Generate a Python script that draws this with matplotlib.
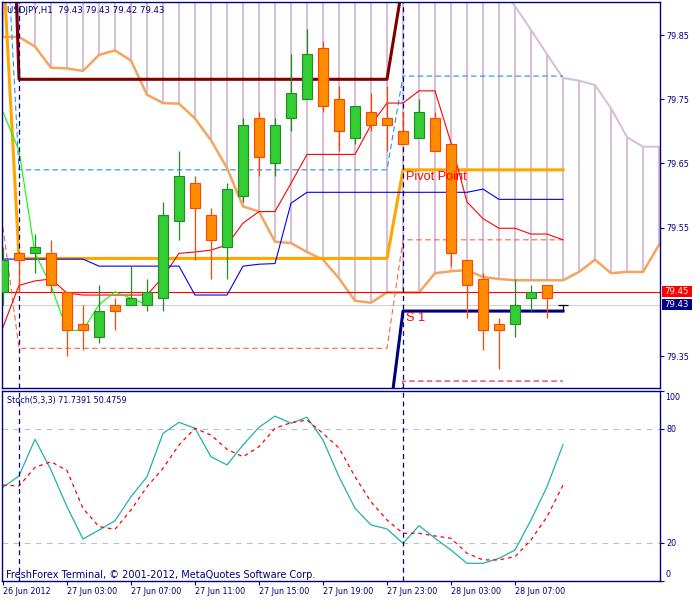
import numpy as np
import matplotlib
matplotlib.use('Agg')
import matplotlib.pyplot as plt
from matplotlib.transforms import blended_transform_factory
from matplotlib.patches import Rectangle

# ---- data (H1 bars, bar 0 = 26 Jun 23:00) ----
opens = [79.45, 79.51, 79.51, 79.51, 79.45, 79.40, 79.38, 79.43, 79.43, 79.43,
         79.44, 79.56, 79.62, 79.57, 79.52, 79.60, 79.72, 79.65, 79.72, 79.75,
         79.83, 79.75, 79.69, 79.73, 79.72, 79.70, 79.69, 79.72, 79.68, 79.50,
         79.47, 79.40, 79.40, 79.44, 79.46, 79.43]
highs = [79.52, 79.51, 79.54, 79.53, 79.45, 79.43, 79.46, 79.44, 79.49, 79.47,
         79.59, 79.67, 79.63, 79.58, 79.62, 79.72, 79.73, 79.72, 79.82, 79.86,
         79.84, 79.77, 79.74, 79.76, 79.77, 79.73, 79.75, 79.73, 79.68, 79.50,
         79.48, 79.41, 79.47, 79.46, 79.46, 79.43]
lows = [79.43, 79.45, 79.48, 79.45, 79.35, 79.36, 79.37, 79.39, 79.43, 79.42,
        79.42, 79.53, 79.50, 79.47, 79.47, 79.59, 79.63, 79.63, 79.70, 79.75,
        79.73, 79.67, 79.68, 79.70, 79.67, 79.68, 79.69, 79.67, 79.49, 79.41,
        79.36, 79.33, 79.38, 79.42, 79.41, 79.42]
closes = [79.50, 79.50, 79.52, 79.46, 79.39, 79.39, 79.42, 79.42, 79.44, 79.45,
          79.57, 79.63, 79.58, 79.53, 79.61, 79.71, 79.66, 79.71, 79.76, 79.82,
          79.74, 79.70, 79.74, 79.71, 79.71, 79.68, 79.73, 79.67, 79.51, 79.46,
          79.39, 79.39, 79.43, 79.45, 79.44, 79.43]

tenkan = [79.395, 79.460, 79.467, 79.470, 79.448, 79.445, 79.445, 79.445, 79.445, 79.445,
          79.473, 79.510, 79.512, 79.515, 79.523, 79.557, 79.575, 79.575, 79.619, 79.664,
          79.664, 79.664, 79.664, 79.710, 79.744, 79.744, 79.763, 79.763, 79.682, 79.590,
          79.564, 79.549, 79.549, 79.540, 79.540, 79.531]
kijun = [79.501, 79.501, 79.501, 79.501, 79.501, 79.501, 79.490, 79.490, 79.490, 79.490,
         79.490, 79.490, 79.445, 79.445, 79.445, 79.490, 79.493, 79.494, 79.588, 79.605,
         79.605, 79.605, 79.605, 79.605, 79.605, 79.605, 79.605, 79.605, 79.605, 79.605,
         79.610, 79.594, 79.594, 79.594, 79.594, 79.594]
# senkou spans run 6 bars past the last candle
span_a = [79.847, 79.847, 79.832, 79.799, 79.798, 79.794, 79.819, 79.826, 79.810, 79.757,
          79.744, 79.743, 79.720, 79.686, 79.643, 79.583, 79.575, 79.528, 79.526, 79.512,
          79.500, 79.471, 79.436, 79.433, 79.449, 79.449, 79.449, 79.479, 79.482, 79.484,
          79.473, 79.470, 79.468, 79.468, 79.468, 79.468, 79.481, 79.500, 79.479, 79.481,
          79.481, 79.523]
span_b = [79.926, 79.926, 79.926, 79.926, 79.926, 79.926, 79.926, 79.926, 79.926, 79.926,
          79.926, 79.926, 79.926, 79.926, 79.926, 79.926, 79.926, 79.926, 79.926, 79.926,
          79.926, 79.926, 79.926, 79.926, 79.926, 79.926, 79.926, 79.926, 79.926, 79.926,
          79.926, 79.926, 79.895, 79.858, 79.820, 79.783, 79.779, 79.772, 79.736, 79.691,
          79.676, 79.676]

# daily pivot levels: 26 Jun, 27 Jun, 28 Jun
bars_per_day = [1, 24, 11]
piv_r1 = [80.55, 79.781, 79.933]
piv_m3 = [80.11, 79.640, 79.786]
piv_pp = [79.965, 79.502, 79.640]
piv_m2 = [79.551, 79.362, 79.531]
piv_s1 = [79.00, 79.225, 79.420]
piv_m1 = [78.90, 79.080, 79.311]

stoch_k = [49.3, 55.3, 74.6, 58.4, 39.1, 22.1, 26.8, 31.7, 44.4, 54.9,
           77.7, 83.5, 80.4, 65.4, 61.1, 71.6, 80.9, 86.8, 83.0, 86.2,
           74.2, 54.9, 38.3, 29.5, 27.4, 19.8, 29.1, 22.5, 16.3, 9.3,
           9.3, 11.9, 16.3, 32.1, 49.6, 71.7391]
stoch_d = [50.5, 50.0, 59.8, 62.8, 58.1, 38.2, 28.6, 27.2, 37.4, 49.6,
           59.3, 71.6, 80.4, 76.8, 69.3, 65.4, 70.7, 80.4, 83.3, 84.7,
           77.7, 70.0, 54.9, 41.7, 32.1, 25.1, 25.1, 23.7, 22.5, 14.6,
           11.1, 11.1, 12.8, 21.6, 33.8, 50.4759]

time_ticks = [0, 4, 8, 12, 16, 20, 24, 28, 32]
time_labels = ["26 Jun 2012", "27 Jun 03:00", "27 Jun 07:00", "27 Jun 11:00",
               "27 Jun 15:00", "27 Jun 19:00", "27 Jun 23:00", "28 Jun 03:00",
               "28 Jun 07:00"]
day_starts = [1, 25]
price_ticks = [79.35, 79.55, 79.65, 79.75, 79.85]
ask = 79.45
bid = 79.43

NAVY = '#000080'
FS = 5.8


def draw_candles(ax, o, h, l, c, width=0.64):
    """
    draws the candles, bull green, bear orange, doji black
    """
    o, h, l, c = map(np.asarray, (o, h, l, c))
    x = np.arange(len(o))
    bull = c > o
    bear = c < o
    doji = c == o
    ax.vlines(x[bull], l[bull], h[bull], colors='#228B22', lw=0.9, zorder=3)
    ax.vlines(x[bear], l[bear], h[bear], colors='#FF4500', lw=0.9, zorder=3)
    ax.vlines(x[doji], l[doji], h[doji], colors='black', lw=0.9, zorder=3)
    ax.bar(x[bull], c[bull] - o[bull], bottom=o[bull], width=width,
           color='#32CD32', edgecolor='#228B22', linewidth=0.8, zorder=3.1)
    ax.bar(x[bear], o[bear] - c[bear], bottom=c[bear], width=width,
           color='#FF8C00', edgecolor='#FF4500', linewidth=0.8, zorder=3.1)
    ax.hlines(o[doji], x[doji] - width / 2, x[doji] + width / 2,
              colors='black', lw=0.9, zorder=3.1)


def draw_ichimoku(ax, closes, tenkan, kijun, span_a, span_b, shift=26):
    xs = np.arange(len(span_a))
    ax.vlines(xs, span_a, span_b, colors='#D8BFD8', lw=1.5, zorder=1)
    ax.plot(xs, span_b, color='#D8BFD8', lw=1.5, zorder=1.2)
    ax.plot(xs, span_a, color='#F4A460', lw=1.8, zorder=1.3)
    x = np.arange(len(tenkan))
    ax.plot(x, tenkan, color='#FF0000', lw=0.8, zorder=2.5)
    ax.plot(x, kijun, color='#0000FF', lw=0.8, zorder=2.5)
    # chikou span = close moved back 26 bars
    chikou = np.asarray(closes)[shift:]
    ax.plot(np.arange(len(chikou)), chikou, color='#00FF00', lw=0.8, zorder=2.5)


def draw_pivots(ax):
    day = np.repeat(np.arange(len(bars_per_day)), bars_per_day)
    x = np.arange(len(day))
    styles = [
        (piv_r1, '#800000', 2.2, '-'),
        (piv_m3, '#1E90FF', 0.8, (0, (5, 3))),
        (piv_pp, '#FFA500', 2.2, '-'),
        (piv_m2, '#FF6347', 0.8, (0, (5, 3))),
        (piv_s1, '#000080', 2.2, '-'),
        (piv_m1, '#DC143C', 0.8, (0, (5, 3))),
    ]
    for levels, col, lw, ls in styles:
        ax.plot(x, np.asarray(levels)[day], color=col, lw=lw, ls=ls, zorder=2.4)
    ax.text(day_starts[-1] + 0.2, piv_pp[-1] - 0.002, 'Pivot Point', color='red',
            family='Liberation Sans', fontsize=9.2, va='top', ha='left', zorder=5)
    ax.text(day_starts[-1] + 0.2, piv_s1[-1] - 0.002, 'S 1', color='red',
            family='Liberation Sans', fontsize=9.2, va='top', ha='left', zorder=5)


def price_box(ax, value, color):
    tr = blended_transform_factory(ax.transAxes, ax.transData)
    h = 11 / 642
    ax.add_patch(Rectangle((1.003, value - h / 2), 30 / 658, h, transform=tr,
                           facecolor=color, edgecolor='none', clip_on=False))
    ax.text(1.003 + 15 / 658, value, f"{value:.2f}", transform=tr, color='white',
            fontsize=FS + 0.4, ha='center', va='center', clip_on=False)


def style_axes(ax):
    for s in ax.spines.values():
        s.set_color(NAVY)
        s.set_linewidth(1.0)
    ax.tick_params(colors=NAVY, labelcolor=NAVY, labelsize=FS, length=3,
                   width=0.8, direction='out', pad=1.5)


fig = plt.figure(figsize=(7, 6), dpi=100)
ax = fig.add_axes([2 / 700, (600 - 388) / 600, 658 / 700, 386 / 600])
ax2 = fig.add_axes([2 / 700, (600 - 581) / 600, 658 / 700, 190 / 600])

xlim = (-1 / 16, 657 / 16)

# ---- price panel ----
ax.axhline(ask, color='#FF0000', lw=0.8, zorder=1.5)
ax.axhline(bid, color='#D3D3D3', lw=0.8, zorder=1.5)
draw_ichimoku(ax, closes, tenkan, kijun, span_a, span_b)
draw_pivots(ax)
draw_candles(ax, opens, highs, lows, closes)
for d in day_starts:
    ax.axvline(d, color=NAVY, lw=0.9, ls=(0, (4, 3)), zorder=2.6)

ax.set_xlim(*xlim)
ax.set_ylim(79.3002, 79.9014)
ax.set_xticks([])
ax.yaxis.tick_right()
ax.set_yticks(price_ticks)
ax.set_yticklabels([f"{p:.2f}" for p in price_ticks])
style_axes(ax)
price_box(ax, ask, '#FF0000')
price_box(ax, bid, NAVY)
ax.text(0.0076, 0.977, "USDJPY,H1  %.2f %.2f %.2f %.2f" % (opens[-1], highs[-1], lows[-1], closes[-1]),
        transform=ax.transAxes, color=NAVY, fontsize=6.2, va='center', ha='left', zorder=6)

# ---- stochastic panel ----
x = np.arange(len(stoch_k))
ax2.axhline(80, color='#C0C0C0', lw=0.8, ls=(0, (5, 5)))
ax2.axhline(20, color='#C0C0C0', lw=0.8, ls=(0, (5, 5)))
ax2.plot(x, stoch_k, color='#20B2AA', lw=0.9)
ax2.plot(x, stoch_d, color='#FF0000', lw=0.9, ls=(0, (3, 3)))
for d in day_starts:
    ax2.axvline(d, color=NAVY, lw=0.9, ls=(0, (4, 3)))
ax2.set_xlim(*xlim)
ax2.set_ylim(0, 100)
ax2.yaxis.tick_right()
ax2.set_yticks([0, 20, 80, 100])
ax2.set_yticklabels(['', '20', '80', ''])
ax2.set_xticks(time_ticks)
ax2.set_xticklabels(time_labels)
style_axes(ax2)
for lab in ax2.get_xticklabels():
    lab.set_ha('left')
tr2 = blended_transform_factory(ax2.transAxes, ax2.transData)
ax2.text(1.0076, 96.8, '100', transform=tr2, color=NAVY, fontsize=FS, va='center')
ax2.text(1.0076, 3.2, '0', transform=tr2, color=NAVY, fontsize=FS, va='center')
ax2.text(0.0076, 0.95, "Stoch(5,3,3) %.4f %.4f" % (stoch_k[-1], stoch_d[-1]),
         transform=ax2.transAxes, color=NAVY, fontsize=FS, va='center', ha='left')
ax2.text(0.006, 0.03, "FreshForex Terminal, \u00a9 2001-2012, MetaQuotes Software Corp.",
         transform=ax2.transAxes, color=NAVY, fontsize=7.0, va='center', ha='left')

fig.savefig('out.png', dpi=100)
